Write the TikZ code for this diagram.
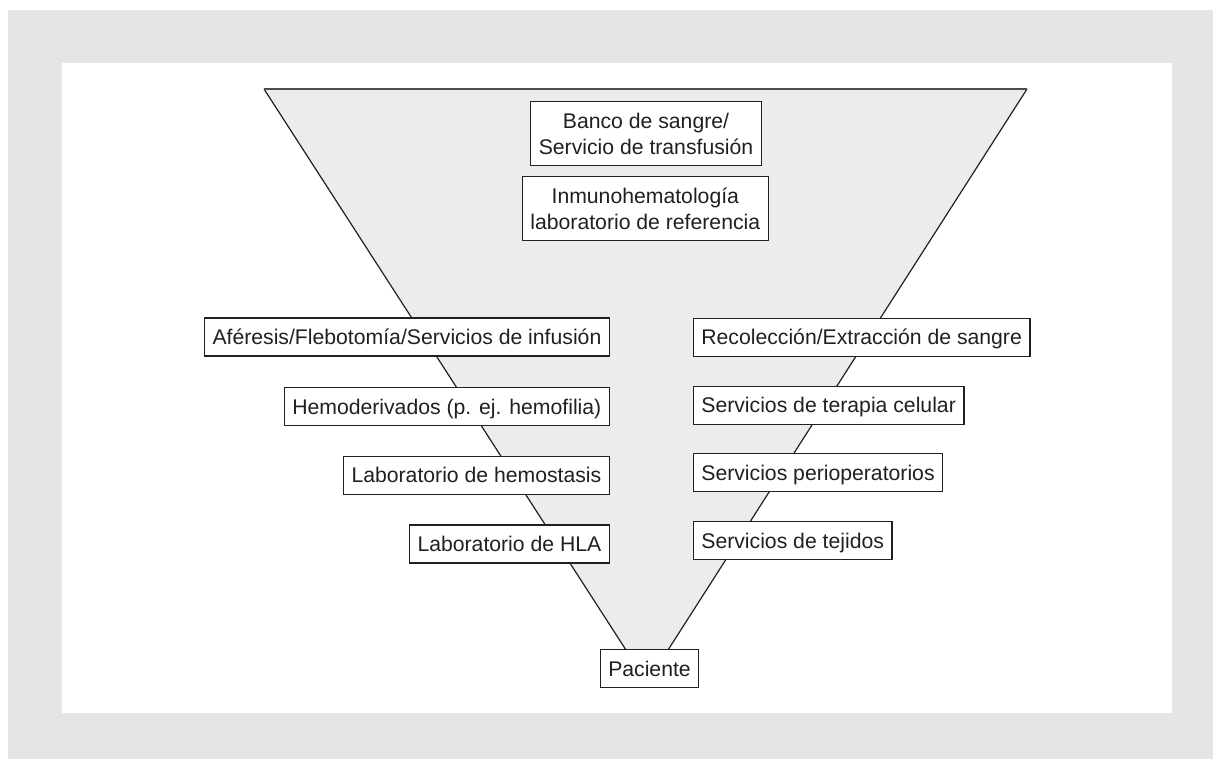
\documentclass[tikz,border=0pt]{standalone}
\usepackage{fontspec}
\setmainfont{Liberation Sans}
\definecolor{framegray}{RGB}{228,229,230}
\definecolor{funnelgray}{RGB}{236,236,236}
\definecolor{inkgray}{RGB}{35,31,32}

\begin{document}
\begin{tikzpicture}[x=0.5pt,y=-0.5pt]
\tikzstyle{box}=[draw=inkgray,fill=white,line width=0.65pt,font=\fontsize{10.6pt}{13pt}\selectfont,text=inkgray,inner xsep=4pt,minimum height=19pt,text height=7.6pt,text depth=0pt]
\tikzstyle{bigbox}=[box,align=center,minimum height=32pt,text height=,text depth=]
\tikzstyle{edge}=[draw=inkgray,line width=0.6pt]
\def \leftx {610}
\def \rightx {692.7}
% frame
\useasboundingbox (0,0) rectangle (1213,759);
\fill[framegray] (8,10) rectangle (1213,759);
\fill[white] (62,63) rectangle (1172,713);
% funnel
\coordinate (tl) at (264,89);
\coordinate (tr) at (1027,89);
\coordinate (pl) at (626,650);
\coordinate (pr) at (668,650);
\fill[funnelgray] (tl) -- (tr) -- (pr) -- (pl) -- cycle;
\path[edge] (tl) -- (pl);
\path[edge] (tr) -- (pr);
\draw[gray!60!black,line width=1pt] (tl) -- (tr);
% boxes
\node[bigbox] (banco) at (646,133.7) {Banco de sangre/\\Servicio de transfusión};
\node[bigbox] (inmuno) at (645.3,208.3) {Inmunohematología\\laboratorio de referencia};
\node[box,anchor=east] (aferesis) at (\leftx,337) {Aféresis/Flebotomía/Servicios de infusión};
\node[box,anchor=east] (hemoder) at (\leftx,406.5) {Hemoderivados (p. ej. hemofilia)};
\node[box,anchor=east] (hemost) at (\leftx,475.3) {Laboratorio de hemostasis};
\node[box,anchor=east] (hla) at (\leftx,544) {Laboratorio de HLA};
\node[box,anchor=west] (recol) at (\rightx,337.2) {Recolección/Extracción de sangre};
\node[box,anchor=west] (terapia) at (\rightx,405.3) {Servicios de terapia celular};
\node[box,anchor=west] (periop) at (\rightx,472.8) {Servicios perioperatorios};
\node[box,anchor=west] (tejidos) at (\rightx,540.5) {Servicios de tejidos};
\node[box] (paciente) at (649.5,668.8) {Paciente};
\end{tikzpicture}
\end{document}
